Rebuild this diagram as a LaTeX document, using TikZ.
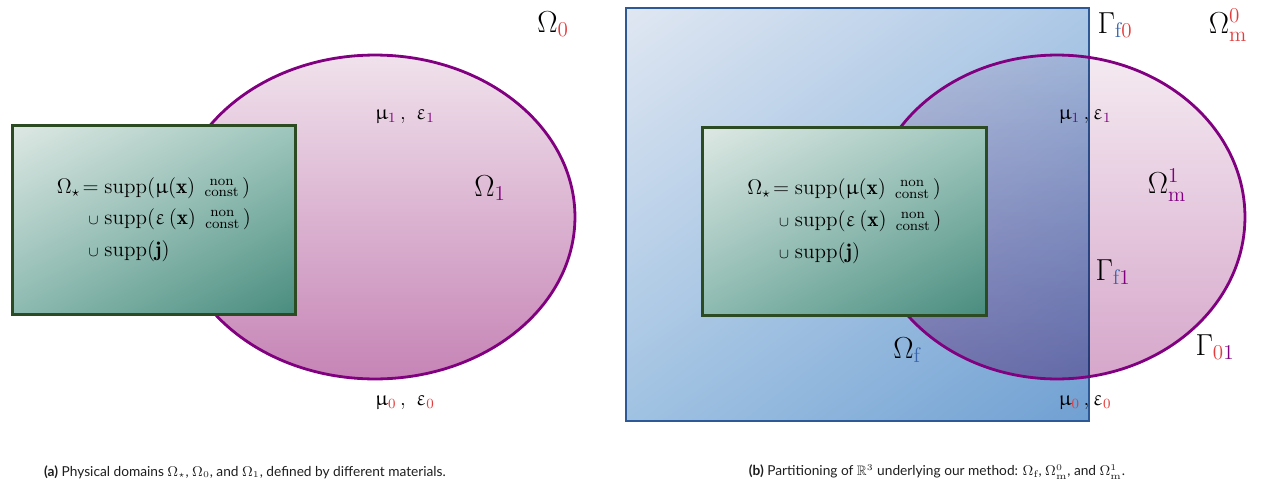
\documentclass[tikz,border=0pt]{standalone}
\usepackage{amsmath,amssymb}
\usepackage{upgreek}
\usepackage{fontspec}
\newfontfamily\capfont{Lato}
\usepackage{tikz}
\usetikzlibrary{shapes.geometric,shadings}
\usepackage{xcolor}
\definecolor{matpurple}{RGB}{128,0,128}
\definecolor{matred}{RGB}{228,60,60}
\definecolor{matblue}{RGB}{55,100,170}
\definecolor{pinktop}{RGB}{240,226,236}
\definecolor{pinkbot}{RGB}{198,132,182}
\definecolor{boxgreen}{RGB}{45,75,35}
\definecolor{greenul}{RGB}{222,232,228}
\definecolor{greenur}{RGB}{158,198,188}
\definecolor{greenll}{RGB}{140,186,176}
\definecolor{greenlr}{RGB}{72,140,126}
\definecolor{frameblue}{RGB}{45,90,150}
\definecolor{blueul}{RGB}{224,231,242}
\definecolor{blueur}{RGB}{172,200,230}
\definecolor{bluell}{RGB}{160,194,226}
\definecolor{bluelr}{RGB}{112,160,210}
\definecolor{captext}{RGB}{30,30,30}

\tikzset{
  matregion/.style={ellipse,draw=matpurple,line width=1.6pt,inner sep=0pt,
    top color=pinktop,bottom color=pinkbot},
  matfill/.style={ellipse,inner sep=0pt,blend mode=multiply,fill opacity=0.72,
    top color=pinktop,bottom color=pinkbot},
  matedge/.style={ellipse,draw=matpurple,line width=1.6pt,inner sep=0pt},
  suppbox/.style={rectangle,draw=boxgreen,line width=1.7pt,inner sep=0pt,font=\large,
    upper left=greenul,upper right=greenur,lower left=greenll,lower right=greenlr},
  fluidbox/.style={rectangle,draw=frameblue,line width=1.4pt,inner sep=0pt,
    upper left=blueul,upper right=blueur,lower left=bluell,lower right=bluelr},
  lbl/.style={inner sep=0pt,font=\LARGE},
  coef/.style={inner sep=0pt,font=\large},
  caption/.style={inner sep=0pt,font=\capfont\fontsize{7.8}{9}\selectfont,text=captext}
}

\newcommand{\nonconst}{\begin{smallmatrix}\text{non}\\\text{const}\end{smallmatrix}}
\newcommand{\supptext}{$\begin{aligned}
  \Omega_\star\!={}& \mathrm{supp}(\upmu(\mathbf{x})\;\nonconst)\\[1pt]
  {\scriptstyle\cup}\;& \mathrm{supp}(\upvarepsilon\,(\mathbf{x})\;\nonconst)\\[1pt]
  {\scriptstyle\cup}\;& \mathrm{supp}(\mathbf{j})
\end{aligned}$}

\begin{document}
\begin{tikzpicture}[x=0.02cm,y=-0.02cm]
\useasboundingbox (0,0) rectangle (1262,487);

% (a) physical domains
\node[matregion,minimum width=8cm,minimum height=6.48cm] (omega1) at (375,217) {};
\node[suppbox,minimum width=5.68cm,minimum height=3.8cm] (omegastar) at (154,220) {\supptext};
\node[lbl] (omega0lbl) at (553,24) {$\Omega_{\textcolor{matred}{0}}$};
\node[lbl] (omega1lbl) at (490,188) {$\Omega_{\textcolor{matpurple}{1}}$};
\node[coef] (coef1) at (405,117) {$\upmu_{\textcolor{matpurple}{1}}\,,\ \upvarepsilon_{\textcolor{matpurple}{1}}$};
\node[coef] (coef0) at (405,403) {$\upmu_{\textcolor{matred}{0}}\,,\ \upvarepsilon_{\textcolor{matred}{0}}$};

% (b) partitioning
\node[fluidbox,minimum width=9.26cm,minimum height=8.26cm] (omegaf) at (857.5,214.5) {};
\node[matfill,minimum width=7.52cm,minimum height=6.48cm] (omegam1) at (1057,217) {};
\node[matedge,minimum width=7.52cm,minimum height=6.48cm] (omegam1edge) at (omegam1) {};
\node[suppbox,minimum width=5.7cm,minimum height=3.78cm] (omegastarb) at (844.5,221.5) {\supptext};
\node[lbl] (gammaf0) at (1115,25) {$\Gamma_{\textcolor{matblue}{\mathrm{f}}\textcolor{matred}{0}}$};
\node[lbl] (omegam0lbl) at (1228,25) {$\Omega^{\textcolor{matred}{0}}_{\textcolor{matred}{\mathrm{m}}}$};
\node[lbl] (omegam1lbl) at (1167,185) {$\Omega^{\textcolor{matpurple}{1}}_{\textcolor{matpurple}{\mathrm{m}}}$};
\node[lbl] (gammaf1) at (1113,272) {$\Gamma_{\textcolor{matblue}{\mathrm{f}}\textcolor{matpurple}{1}}$};
\node[lbl] (gamma01) at (1215,347) {$\Gamma_{\textcolor{matred}{0}\textcolor{matpurple}{1}}$};
\node[lbl] (omegaflbl) at (907,350) {$\Omega_{\textcolor{matblue}{\mathrm{f}}}$};
\node[coef] (coef1b) at (1085,117) {$\upmu_{\textcolor{matpurple}{1}}\,,\upvarepsilon_{\textcolor{matpurple}{1}}$};
\node[coef] (coef0b) at (1085,403) {$\upmu_{\textcolor{matred}{0}}\,,\upvarepsilon_{\textcolor{matred}{0}}$};

% captions
\node[caption] (capa) at (245,472) {\textbf{(a)} Physical domains $\Omega_\star$, $\Omega_0$, and $\Omega_1$, defined by different materials.};
\node[caption] (capb) at (937,472) {\textbf{(b)} Partitioning of $\mathbb{R}^3$ underlying our method: $\Omega_\mathrm{f}$, $\Omega^0_\mathrm{m}$, and $\Omega^1_\mathrm{m}$.};
\end{tikzpicture}
\end{document}
